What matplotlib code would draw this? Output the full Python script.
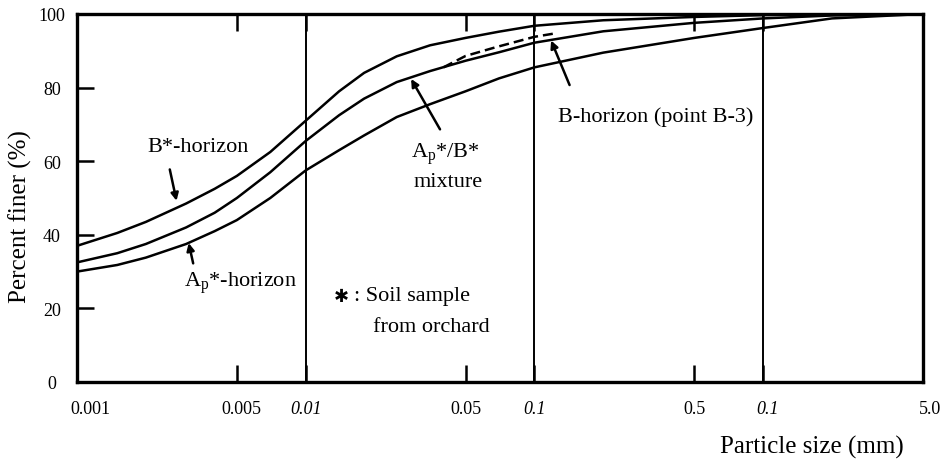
import matplotlib.pyplot as plt
import matplotlib.transforms as mtransforms
import numpy as np

plt.rcParams['font.family'] = ['Liberation Serif', 'DejaVu Serif', 'DejaVu Sans']
plt.rcParams['mathtext.fontset'] = 'custom'
plt.rcParams['mathtext.rm'] = 'Liberation Serif'

# particle size (mm) and percent finer
size_mm = [0.001, 0.0015, 0.002, 0.003, 0.004, 0.005, 0.007, 0.01, 0.014, 0.018,
           0.025, 0.035, 0.05, 0.07, 0.1, 0.2, 0.5, 1.0, 2.0, 5.0]
b_star = [37, 40.5, 43.5, 48.5, 52.5, 56, 62.5, 71, 79, 84,
          88.5, 91.5, 93.5, 95.2, 96.8, 98.3, 99.2, 99.7, 100, 100]
mixture = [32.5, 35, 37.5, 42, 46, 50, 57, 65.5, 72.5, 77,
           81.5, 84.5, 87.3, 89.6, 92.2, 95.3, 97.6, 98.8, 99.6, 100]
ap_star = [30, 31.8, 33.8, 37.5, 41, 44, 50, 57.5, 63, 67,
           72, 75.5, 79, 82.5, 85.5, 89.5, 93.5, 96.2, 98.8, 100]

# dashed B-horizon (point B-3)
b3_size = [0.04, 0.05, 0.068, 0.1, 0.125]
b3_finer = [85.5, 88.6, 91, 93.8, 94.8]

tick_pos = [0.001, 0.005, 0.01, 0.05, 0.1, 0.5, 1.0, 5.0]
tick_lab = ['0.001', '0.005', '0.01', '0.05', '0.1', '0.5', '0.1', '5.0']
grid_lines = [0.01, 0.1, 1.0]

fig = plt.figure(figsize=(9.53, 4.6), dpi=100)
ax = fig.add_axes([77 / 953, 77 / 460, 846 / 953, 368 / 460])

ax.plot(size_mm, b_star, color='black', lw=1.8)
ax.plot(size_mm, mixture, color='black', lw=1.8)
ax.plot(size_mm, ap_star, color='black', lw=1.8)
ax.plot(b3_size, b3_finer, color='black', lw=1.8, ls=(0, (4, 2)))

for g in grid_lines:
    ax.axvline(g, color='black', lw=1.4)

ax.set_xscale('log')
ax.set_xlim(0.001, 5.0)
ax.set_ylim(0, 100)

ax.set_xticks(tick_pos)
ax.set_xticklabels(tick_lab)
ax.xaxis.set_minor_locator(plt.NullLocator())
ax.set_yticks([0, 20, 40, 60, 80, 100])
ax.tick_params(axis='both', direction='in', length=12, width=1.8, labelsize=13,
               top=True, right=False)
ax.tick_params(axis='x', pad=13)
ax.tick_params(axis='y', pad=18)
for lab in ax.get_yticklabels():
    lab.set_horizontalalignment('center')

# labels in the original sit a little right of some ticks
shift_px = {'0.001': 13, '0.005': 5, '5.0': 7}
for i, (lab, t) in enumerate(zip(ax.get_xticklabels(), tick_lab)):
    if t in ('0.01', '0.1'):
        lab.set_style('italic')
    dx = shift_px.get(t, 0)
    if i == 6:
        dx = 4
    if dx:
        off = mtransforms.ScaledTranslation(dx / 100, 0, fig.dpi_scale_trans)
        lab.set_transform(lab.get_transform() + off)

for s in ax.spines.values():
    s.set_linewidth(2.4)

fs = 16
arrow = dict(arrowstyle='-|>', color='black', lw=1.8, mutation_scale=11)
ax.text(0.0034, 64, 'B*-horizon', fontsize=fs, ha='center', va='center')
ax.annotate('', xy=(0.00274, 48.5), xytext=(0.00253, 58.5), arrowprops=arrow)

ax.text(0.0052, 27, r'A$_\mathrm{p}$*-horizon', fontsize=fs, ha='center', va='center')
ax.annotate('', xy=(0.00306, 38.5), xytext=(0.00324, 31.5), arrowprops=arrow)

ax.text(0.041, 62, r'A$_\mathrm{p}$*/B*', fontsize=fs, ha='center', va='center')
ax.text(0.042, 54.5, 'mixture', fontsize=fs, ha='center', va='center')
ax.annotate('', xy=(0.0285, 83), xytext=(0.0392, 68), arrowprops=arrow)

ax.text(0.127, 72.3, 'B-horizon (point B-3)', fontsize=fs, ha='left', va='center')
ax.annotate('', xy=(0.117, 93.5), xytext=(0.144, 80), arrowprops=arrow)

ax.text(0.0143, 23.4, '✱', fontsize=13, ha='center', va='center', family='DejaVu Sans')
ax.text(0.0163, 23.4, ': Soil sample', fontsize=fs, ha='left', va='center')
ax.text(0.0196, 15.2, 'from orchard', fontsize=fs, ha='left', va='center')

fig.text(812 / 953, 1 - 447 / 460, 'Particle size (mm)', fontsize=18, ha='center', va='center')
fig.text(20 / 953, 1 - 217 / 460, 'Percent finer (%)', fontsize=18, ha='center', va='center',
         rotation=90)

fig.savefig('out.png', dpi=100)
